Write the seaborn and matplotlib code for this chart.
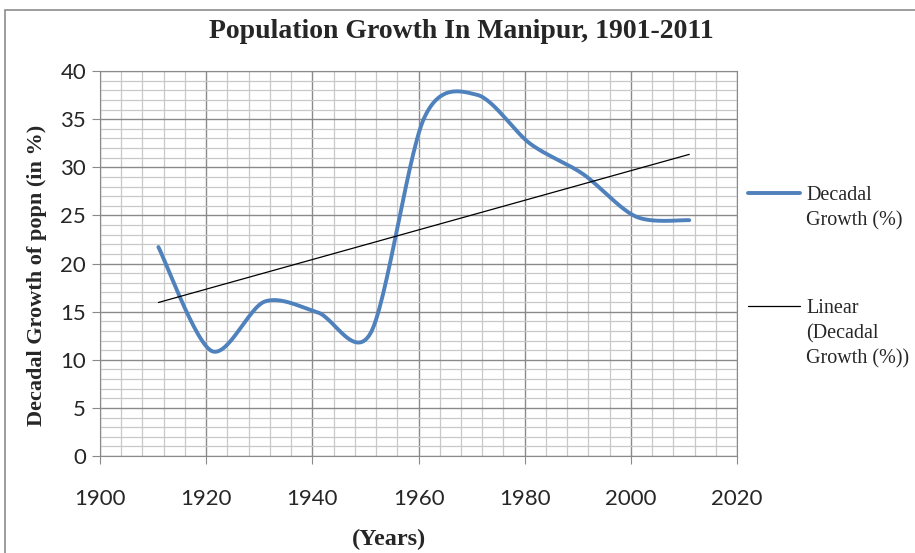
import matplotlib.pyplot as plt
import numpy as np
import pandas as pd
import seaborn as sns
from matplotlib.lines import Line2D
from matplotlib.patches import Rectangle
from matplotlib.ticker import MultipleLocator

years = [1911, 1921, 1931, 1941, 1951, 1961, 1971, 1981, 1991, 2001, 2011]
growth = [21.71, 10.92, 16.04, 14.92, 12.80, 35.04, 37.53, 32.46, 29.29, 24.86, 24.50]
legend_labels = ["Decadal\nGrowth (%)", "Linear\n(Decadal\nGrowth (%))"]


def catmull_rom(x, y, steps=30, k=0.9):
    # Excel-like smoothed line through the data points
    x = np.asarray(x, float)
    y = np.asarray(y, float)
    px = np.concatenate([[x[0]], x, [x[-1]]])
    py = np.concatenate([[y[0]], y, [y[-1]]])
    xs, ys = [], []
    t = np.linspace(0, 1, steps)
    for i in range(1, len(px) - 2):
        p0, p1, p2, p3 = [np.array([px[j], py[j]]) for j in (i - 1, i, i + 1, i + 2)]
        c1 = p1 + k * (p2 - p0) / 6
        c2 = p2 - k * (p3 - p1) / 6
        pts = ((1 - t) ** 3)[:, None] * p1 + (3 * (1 - t) ** 2 * t)[:, None] * c1 \
            + (3 * (1 - t) * t ** 2)[:, None] * c2 + (t ** 3)[:, None] * p2
        xs.extend(pts[:, 0])
        ys.extend(pts[:, 1])
    return np.array(xs), np.array(ys)


sns.set_style("white")
plt.rcParams["font.family"] = ["Lato", "DejaVu Sans"]
serif = "Liberation Serif"

fig = plt.figure(figsize=(9.15, 5.53), dpi=100)
ax = fig.add_axes([0.1093, 0.1754, 0.6962, 0.6962])

# outer chart border
fig.patches.append(Rectangle((5 / 915, -0.02), 1.0, 1 - 10 / 553 + 0.02, transform=fig.transFigure,
                             fill=False, edgecolor="#8c8c8c", linewidth=1.2))

sx, sy = catmull_rom(years, growth)
smooth = pd.DataFrame({"year": sx, "growth": sy})
sns.lineplot(data=smooth, x="year", y="growth", ax=ax, color="#4F81BD", linewidth=2.8,
             sort=False, estimator=None, solid_capstyle="round")

coef = np.polyfit(years, growth, 1)
trend = pd.DataFrame({"year": [years[0], years[-1]],
                      "growth": np.polyval(coef, [years[0], years[-1]])})
sns.lineplot(data=trend, x="year", y="growth", ax=ax, color="black", linewidth=0.9)

ax.set_xlim(1900, 2020)
ax.set_ylim(0, 40)
ax.xaxis.set_major_locator(MultipleLocator(20))
ax.xaxis.set_minor_locator(MultipleLocator(4))
ax.yaxis.set_major_locator(MultipleLocator(5))
ax.yaxis.set_minor_locator(MultipleLocator(1))
ax.grid(which="minor", color="#c8c8c8", linewidth=0.9)
ax.grid(which="major", color="#8a8a8a", linewidth=1.0)
ax.set_axisbelow(True)
for s in ax.spines.values():
    s.set_color("#8a8a8a")
ax.tick_params(which="major", length=6, color="#8a8a8a", labelsize=16, direction="out",
               bottom=True, left=True, pad=4)
ax.tick_params(axis="x", pad=18)
ax.tick_params(which="minor", length=0)

fig.text(461 / 915, 1 - 31 / 553, "Population Growth In Manipur, 1901-2011", fontsize=20,
         fontweight="bold", family=serif, ha="center", va="center")
ax.set_xlabel("(Years)", fontsize=17.5, fontweight="bold", family=serif)
ax.xaxis.set_label_coords(0.453, -0.19)
ax.set_ylabel("Decadal Growth of popn (in %)", fontsize=16, fontweight="bold", family=serif)
ax.yaxis.set_label_coords(-0.083, 0.47)

# legend, handle aligned with the first text line like Excel
legend_y = [193, 306]
handles = [("#4F81BD", 2.8), ("black", 0.9)]
for (col, lw), label, yp in zip(handles, legend_labels, legend_y):
    yf = 1 - yp / 553
    fig.add_artist(Line2D([748 / 915, 800 / 915], [yf, yf], color=col, linewidth=lw,
                          transform=fig.transFigure))
    fig.text(806 / 915, 1 - (yp - 7) / 553, label, family=serif, fontsize=14.5,
             va="top", ha="left", linespacing=1.42)

fig.savefig("out.png", dpi=100)
